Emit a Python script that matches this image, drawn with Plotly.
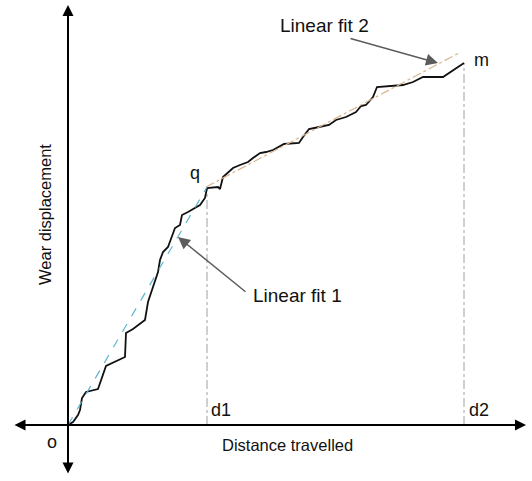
import plotly.graph_objects as go

# Measured wear curve: distance travelled vs. wear displacement (arbitrary units)
distance = [0, 5, 10, 12, 14, 18, 30, 34, 38, 57, 58, 65, 77, 80, 86, 90, 92, 95,
            100, 104, 107, 112, 114, 120, 127, 132, 137, 139, 150, 152, 155, 165,
            172, 180, 185, 192, 198, 205, 216, 231, 235, 241, 251, 261, 268, 278,
            288, 293, 298, 305, 309, 323, 335, 345, 355, 375, 381, 390, 396]
wear = [0, 3, 10, 15, 27, 33, 36, 48, 59, 68, 92, 96, 105, 123, 140, 153, 165, 173,
        178, 188, 197, 200, 210, 213, 217, 220, 227, 237, 238, 236, 248, 257,
        260, 263, 267, 272, 273, 275, 281, 282, 288, 296, 298, 300, 305, 308,
        313, 319, 320, 328, 338, 339, 340, 343, 348, 348, 352, 358, 362]

# Two linear regimes
fit1_x = [0, 139]
fit1_y = [0, 238]
fit2_x = [138, 391]
fit2_y = [238, 372]

# Transition and end distances
d1, d1_wear = 139, 237
d2, d2_wear = 396, 362

FONT = "Liberation Sans, Arial, sans-serif"

fig = go.Figure()

# Guide lines down to the distance axis
fig.add_trace(go.Scatter(x=[d1, d1], y=[0, d1_wear], mode="lines",
                         line=dict(color="#a0a0a0", width=1, dash="dashdot"),
                         hoverinfo="skip", showlegend=False))
fig.add_trace(go.Scatter(x=[d2, d2], y=[0, d2_wear], mode="lines",
                         line=dict(color="#a0a0a0", width=1, dash="dashdot"),
                         hoverinfo="skip", showlegend=False))

# Measured curve
fig.add_trace(go.Scatter(x=distance, y=wear, mode="lines",
                         line=dict(color="#111111", width=1.8),
                         showlegend=False))

# Linear fits
fig.add_trace(go.Scatter(x=fit1_x, y=fit1_y, mode="lines",
                         line=dict(color="#5fb4d2", width=1.2, dash="dash"),
                         showlegend=False))
fig.add_trace(go.Scatter(x=fit2_x, y=fit2_y, mode="lines",
                         line=dict(color="#d8b48e", width=1.2, dash="dashdot"),
                         showlegend=False))

annotations = []

# Axes drawn as double-headed arrows
annotations.append(dict(x=458, y=0, ax=-55, ay=0, xref="x", yref="y",
                        axref="x", ayref="y", text="", showarrow=True,
                        arrowhead=2, startarrowhead=2, arrowside="end+start",
                        arrowsize=1.1, startarrowsize=1.1, arrowwidth=2,
                        arrowcolor="#000000", standoff=0, startstandoff=0))
annotations.append(dict(x=0, y=420, ax=0, ay=-50, xref="x", yref="y",
                        axref="x", ayref="y", text="", showarrow=True,
                        arrowhead=2, startarrowhead=2, arrowside="end+start",
                        arrowsize=1.1, startarrowsize=1.1, arrowwidth=2,
                        arrowcolor="#000000", standoff=0, startstandoff=0))

# Pointer arrows for the fits
annotations.append(dict(x=370, y=362, ax=281, ay=387, xref="x", yref="y",
                        axref="x", ayref="y", text="", showarrow=True,
                        arrowhead=2, arrowsize=1.6, arrowwidth=1.5,
                        arrowcolor="#5c5c5c", standoff=0))
annotations.append(dict(x=110, y=188, ax=179, ay=132, xref="x", yref="y",
                        axref="x", ayref="y", text="", showarrow=True,
                        arrowhead=2, arrowsize=1.6, arrowwidth=1.5,
                        arrowcolor="#5c5c5c", standoff=0))

def label(x, y, text, size=18, angle=0):
    return dict(x=x, y=y, xref="x", yref="y", text=text, showarrow=False,
                textangle=angle, xanchor="center", yanchor="middle",
                font=dict(family=FONT, size=size, color="#111111"))

annotations += [
    label(256, 400, "Linear fit 2", 19),
    label(229, 130, "Linear fit 1", 19),
    label(127, 252, "q"),
    label(413, 365, "m"),
    label(-16, -17, "o"),
    label(153, 15, "d1"),
    label(411, 15, "d2"),
    label(219.5, -20, "Distance travelled", 16.5),
    label(-23, 210, "Wear displacement", 16.5, -90),
]

fig.update_layout(
    width=532, height=481,
    margin=dict(l=0, r=0, t=0, b=0),
    paper_bgcolor="white", plot_bgcolor="white",
    xaxis=dict(range=[-68, 464], visible=False, fixedrange=True),
    yaxis=dict(range=[-56, 425], visible=False, fixedrange=True),
    annotations=annotations,
    showlegend=False,
)

fig.write_html("out.html")
